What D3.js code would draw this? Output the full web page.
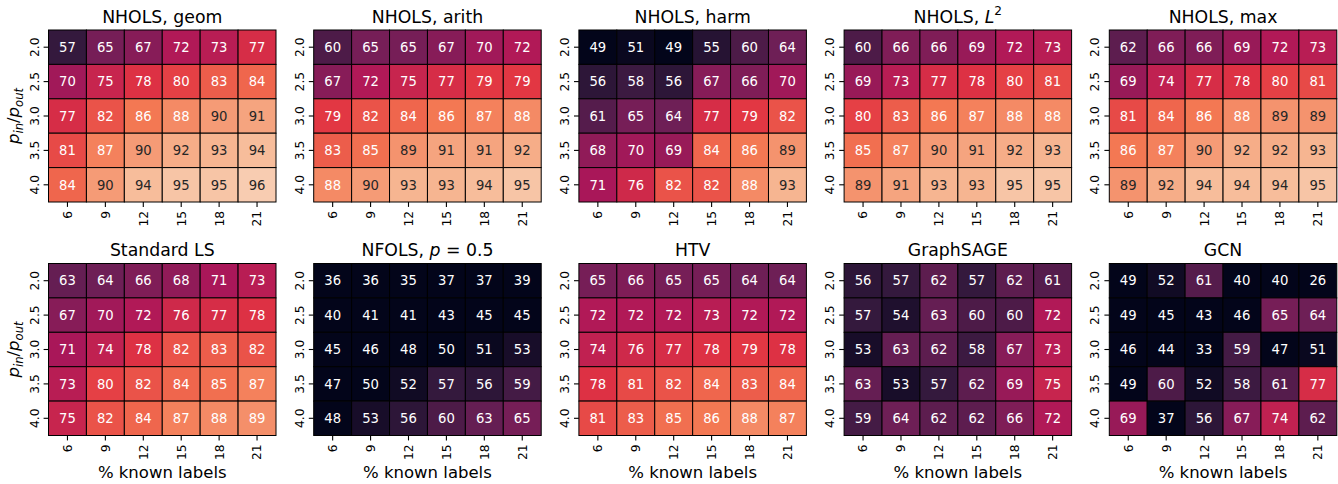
<!DOCTYPE html>
<html><head><meta charset="utf-8">
<script src="https://cdn.jsdelivr.net/npm/d3@7"></script>
<style>body{margin:0;background:#fff}svg{display:block;font-family:"DejaVu Sans",sans-serif}</style>
</head><body><svg id="c" width="1338" height="484"></svg>
<script>
const xCats = ["6","9","12","15","18","21"];
const yCats = ["2.0","2.5","3.0","3.5","4.0"];
const titles = ["NHOLS, geom","NHOLS, arith","NHOLS, harm","NHOLS, $L^2$","NHOLS, max",
                "Standard LS","NFOLS, $p = 0.5$","HTV","GraphSAGE","GCN"];
const xLabel = "% known labels";
const yLabel = "$p_{in}/p_{out}$";
const geom  = [[57,65,67,72,73,77],[70,75,78,80,83,84],[77,82,86,88,90,91],[81,87,90,92,93,94],[84,90,94,95,95,96]];
const arith = [[60,65,65,67,70,72],[67,72,75,77,79,79],[79,82,84,86,87,88],[83,85,89,91,91,92],[88,90,93,93,94,95]];
const harm  = [[49,51,49,55,60,64],[56,58,56,67,66,70],[61,65,64,77,79,82],[68,70,69,84,86,89],[71,76,82,82,88,93]];
const l2    = [[60,66,66,69,72,73],[69,73,77,78,80,81],[80,83,86,87,88,88],[85,87,90,91,92,93],[89,91,93,93,95,95]];
const maxv  = [[62,66,66,69,72,73],[69,74,77,78,80,81],[81,84,86,88,89,89],[86,87,90,92,92,93],[89,92,94,94,94,95]];
const stdls = [[63,64,66,68,71,73],[67,70,72,76,77,78],[71,74,78,82,83,82],[73,80,82,84,85,87],[75,82,84,87,88,88.6]];
const nfols = [[36,36,35,37,37,39],[40,41,41,43,45,45],[45,46,48,50,51,53],[47,50,52,57,56,59],[48,53,56,60,63,65]];
const htv   = [[65,66,65,65,64,64],[72,72,72,73,72,72],[74,76,77,78,79,78],[78,81,82,84,83,84],[81,83,85,86,88,87]];
const sage  = [[56,57,62,57,62,61],[57,54,63,60,60,72],[53,63,62,58,67,73],[63,53,57,62,69,75],[59,64,62,62,66,72]];
const gcn   = [[49,52,61,40,40,26],[49,45,43,46,65,64],[46,44,33,59,47,51],[49,60,52,58,61,77],[69,37,56,67,74,62]];
const panels = [geom, arith, harm, l2, maxv, stdls, nfols, htv, sage, gcn];
const vmin = 50, vmax = 100;

// rocket colormap control points
const rocket = ["#03051a","#35193e","#701f57","#ad1759","#e13342","#f37651","#f6b48f","#faebdd"];
const rocketInterp = d3.piecewise(d3.interpolateRgb, rocket);
const color = d3.scaleSequential(rocketInterp).domain([vmin, vmax]).clamp(true);
const fmt = d3.format(".0f");

function lum(c){
  const r = d3.rgb(c);
  const f = v => { v/=255; return v<=0.03928 ? v/12.92 : Math.pow((v+0.055)/1.055,2.4); };
  return 0.2126*f(r.r)+0.7152*f(r.g)+0.0722*f(r.b);
}

function renderMath(sel, str){
  const parts = str.split("$");
  const fs = +sel.attr("font-size");
  parts.forEach((p,i)=>{
    if(i%2===0){ if(p) sel.append("tspan").text(p); return; }
    let shift = 0; let k = 0;
    const emit = (txt, italic, mode) => {
      const t = sel.append("tspan").text(txt);
      if(italic) t.attr("font-style","italic");
      const target = mode==="sup" ? -0.45 : mode==="sub" ? 0.25 : 0;
      const dy = (target - shift)*fs;
      if(dy!==0) t.attr("dy", dy);
      shift = target;
      if(mode) t.attr("font-size", fs*0.7);
    };
    while(k<p.length){
      const ch = p[k];
      if(ch==="^"||ch==="_"){
        const mode = ch==="^"?"sup":"sub";
        let txt;
        if(p[k+1]==="{"){ const e = p.indexOf("}",k); txt = p.slice(k+2,e); k = e+1; }
        else { txt = p[k+1]; k += 2; }
        emit(txt, /[a-zA-Z]/.test(txt), mode);
      } else if(/[a-zA-Z]/.test(ch)){
        let e=k; while(e<p.length && /[a-zA-Z]/.test(p[e])) e++;
        emit(p.slice(k,e), true, null); k=e;
      } else {
        let e=k; while(e<p.length && !/[a-zA-Z^_]/.test(p[e])) e++;
        emit(p.slice(k,e), false, null); k=e;
      }
    }
  });
}

const svg = d3.select("#c");
const W = 227.5, H = 172;
const lefts = d3.range(5).map(i => 48.5 + i*265.2);
const tops = [30, 263.5];
const tick = 4.9, pad = 4;
const tickFs = 12.3;

panels.forEach((data, idx)=>{
  const row = Math.floor(idx/5), col = idx%5;
  const g = svg.append("g").attr("transform",`translate(${lefts[col]},${tops[row]})`);
  const x = d3.scaleBand().domain(xCats).range([0,W]);
  const y = d3.scaleBand().domain(yCats).range([0,H]);
  const cells = [];
  data.forEach((r,ri)=>r.forEach((v,ci)=>cells.push({r:yCats[ri], c:xCats[ci], v})));
  g.selectAll("rect").data(cells).join("rect")
    .attr("x",d=>x(d.c)).attr("y",d=>y(d.r))
    .attr("width",x.bandwidth()).attr("height",y.bandwidth())
    .attr("fill",d=>color(d.v)).attr("stroke","#000").attr("stroke-width",1);
  g.selectAll("text.ann").data(cells).join("text").attr("class","ann")
    .attr("x",d=>x(d.c)+x.bandwidth()/2).attr("y",d=>y(d.r)+y.bandwidth()/2)
    .attr("dy","0.36em").attr("text-anchor","middle").attr("font-size",13.2)
    .attr("fill",d=> lum(color(d.v))>0.408 ? "#262626" : "#ffffff")
    .text(d=>fmt(d.v));
  xCats.forEach(c=>{
    const cx = x(c)+x.bandwidth()/2;
    g.append("line").attr("x1",cx).attr("x2",cx).attr("y1",H).attr("y2",H+tick).attr("stroke","#000").attr("stroke-width",1.1);
    g.append("text").attr("transform",`translate(${cx},${H+tick+pad}) rotate(-90)`)
      .attr("text-anchor","end").attr("dy","0.36em").attr("font-size",tickFs).attr("fill","#000").text(c);
  });
  yCats.forEach(c=>{
    const cy = y(c)+y.bandwidth()/2;
    g.append("line").attr("x1",-tick).attr("x2",0).attr("y1",cy).attr("y2",cy).attr("stroke","#000").attr("stroke-width",1.1);
    g.append("text").attr("transform",`translate(${-tick-pad-1},${cy}) rotate(-90)`)
      .attr("text-anchor","middle").attr("font-size",tickFs).attr("fill","#000").text(c);
  });
  const t = g.append("text").attr("x",W/2).attr("y",-7.5).attr("text-anchor","middle")
    .attr("font-size",17.3).attr("fill","#000");
  renderMath(t, titles[idx]);
  if(row===1){
    g.append("text").attr("x",W/2).attr("y",H+42).attr("text-anchor","middle")
      .attr("font-size",16.5).attr("fill","#000").text(xLabel);
  }
  if(col===0){
    const yl = g.append("text").attr("transform",`translate(${-30},${H/2}) rotate(-90)`)
      .attr("text-anchor","middle").attr("font-size",16.5).attr("fill","#000");
    renderMath(yl, yLabel);
  }
});
</script></body></html>
